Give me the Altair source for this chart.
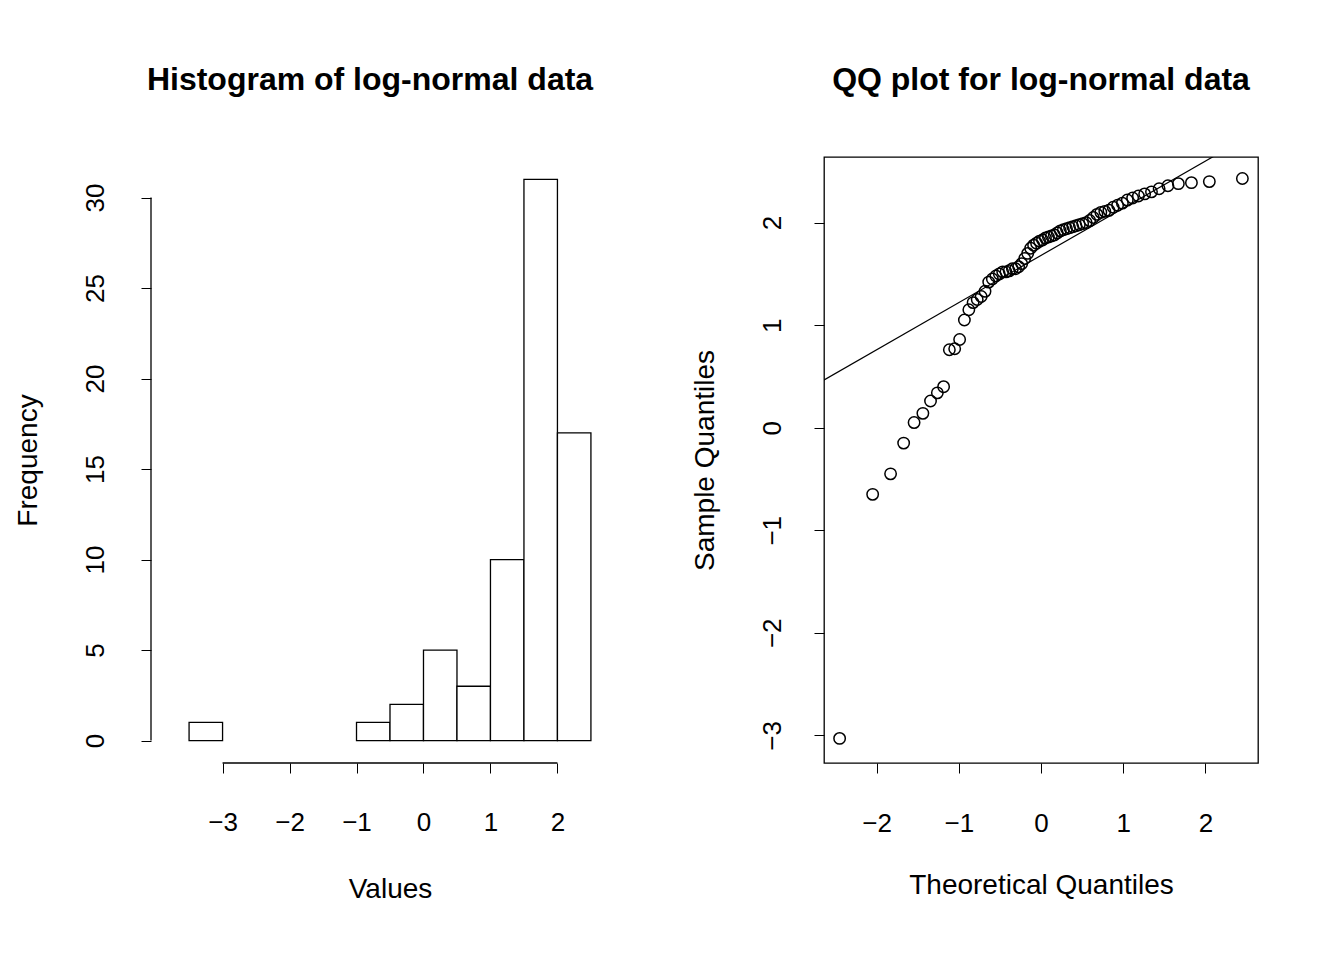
import altair as alt
import pandas as pd

FONT = "Liberation Sans"

# histogram bins (width 0.5) and counts
bin_start = [-3.5, -3.0, -2.5, -2.0, -1.5, -1.0, -0.5, 0.0, 0.5, 1.0, 1.5, 2.0]
bin_count = [1, 0, 0, 0, 0, 1, 2, 5, 3, 10, 31, 17]

# QQ plot: theoretical quantiles (n=70) and sorted sample values
theo_pos = [0.018, 0.054, 0.090, 0.126, 0.162, 0.198, 0.235, 0.272, 0.310, 0.348,
            0.387, 0.426, 0.466, 0.507, 0.549, 0.592, 0.636, 0.681, 0.728, 0.776,
            0.826, 0.878, 0.932, 0.990, 1.050, 1.115, 1.185, 1.261, 1.344, 1.437,
            1.544, 1.671, 1.830, 2.048, 2.450]
theoretical = [-v for v in reversed(theo_pos)] + theo_pos
sample = sorted([-3.03, -0.65, -0.45, -0.15, 0.05, 0.14, 0.26, 0.34, 0.40, 0.76,
                 0.77, 0.86, 1.05, 1.15, 1.22, 1.25, 1.28, 1.33, 1.42, 1.45,
                 1.48, 1.50, 1.52, 1.52, 1.53, 1.55, 1.55, 1.57, 1.60, 1.65,
                 1.70, 1.75, 1.78, 1.80, 1.82, 1.83, 1.85, 1.86, 1.87, 1.88,
                 1.90, 1.92, 1.93, 1.94, 1.95, 1.96, 1.97, 1.98, 1.99, 2.00,
                 2.02, 2.05, 2.08, 2.10, 2.11, 2.12, 2.15, 2.17, 2.19, 2.22,
                 2.24, 2.26, 2.28, 2.30, 2.33, 2.36, 2.38, 2.39, 2.40, 2.43])
line_x = [-2.7, 2.7]
line_y = [1.68 + 0.46 * v for v in line_x]

W, H = 434, 606

hist = pd.DataFrame({"x0": bin_start, "x1": [b + 0.5 for b in bin_start], "n": bin_count})
hist = hist[hist.n > 0]

axis_common = dict(labelFont=FONT, titleFont=FONT, labelFontSize=26, titleFontSize=28,
                   titleFontWeight="normal", labelColor="black", titleColor="black",
                   tickColor="black", tickSize=10, grid=False, domain=False, format="d")

xs = alt.Scale(domain=[-3.74, 2.74], nice=False, zero=False)
ys = alt.Scale(domain=[-1.24, 32.24], nice=False, zero=False)

bars = alt.Chart(hist).mark_rect(fill="white", stroke="black", strokeWidth=1.3).encode(
    x=alt.X("x0:Q", scale=xs, axis=alt.Axis(values=[-3, -2, -1, 0, 1, 2],
                                            title="Values", titlePadding=40, labelPadding=36,
                                            **axis_common)),
    x2="x1:Q",
    y=alt.Y("n:Q", scale=ys, axis=alt.Axis(values=[0, 5, 10, 15, 20, 25, 30], offset=22,
                                           labelAngle=-90, labelAlign="center", labelBaseline="bottom",
                                           labelPadding=33, title="Frequency", titlePadding=40,
                                           **axis_common)),
    y2=alt.value(H * (32.24) / 33.48),
)
xaxis_line = alt.Chart(pd.DataFrame({"a": [-3], "b": [2]})).mark_rule(color="black", strokeWidth=1.3).encode(
    x=alt.X("a:Q", scale=xs), x2="b:Q", y=alt.value(H))
yaxis_line = alt.Chart(pd.DataFrame({"a": [0], "b": [30]})).mark_rule(color="black", strokeWidth=1.3).encode(
    y=alt.Y("a:Q", scale=ys), y2="b:Q", x=alt.value(-22))

left = alt.layer(bars, xaxis_line, yaxis_line).properties(
    width=W, height=H, view=alt.ViewBackground(stroke=None),
    title=alt.TitleParams("Histogram of log-normal data", font=FONT, fontSize=32,
                          fontWeight="bold", offset=60, anchor="middle", dx=-20))

qs = alt.Scale(domain=[-2.64, 2.64], nice=False, zero=False)
qy = alt.Scale(domain=[-3.27, 2.64], nice=False, zero=False)
qq = pd.DataFrame({"t": theoretical, "s": sample})
pts = alt.Chart(qq).mark_point(shape="circle", filled=False, color="black", size=130,
                               strokeWidth=1.5, opacity=1).encode(
    x=alt.X("t:Q", scale=qs, axis=alt.Axis(values=[-2, -1, 0, 1, 2], title="Theoretical Quantiles",
                                           titlePadding=35, labelPadding=37, **axis_common)),
    y=alt.Y("s:Q", scale=qy, axis=alt.Axis(values=[-3, -2, -1, 0, 1, 2], labelAngle=-90,
                                           labelAlign="center", labelBaseline="bottom", labelPadding=29,
                                           title="Sample Quantiles", titlePadding=40, **axis_common)),
)
qline = alt.Chart(pd.DataFrame({"x": line_x, "y": line_y})).mark_line(
    color="black", strokeWidth=1.2, clip=True).encode(x=alt.X("x:Q", scale=qs), y=alt.Y("y:Q", scale=qy))

right = alt.layer(qline, pts).properties(
    width=W, height=H, view=alt.ViewBackground(stroke="black", strokeWidth=1.3),
    title=alt.TitleParams("QQ plot for log-normal data", font=FONT, fontSize=32,
                          fontWeight="bold", offset=60, anchor="middle"))

chart = alt.hconcat(left, right, spacing=83).properties(
    padding={"left": 5, "top": 55, "right": 5, "bottom": 5}
).configure(background="white")
chart.save("out.html", embed_options={"renderer": "svg", "actions": False})
